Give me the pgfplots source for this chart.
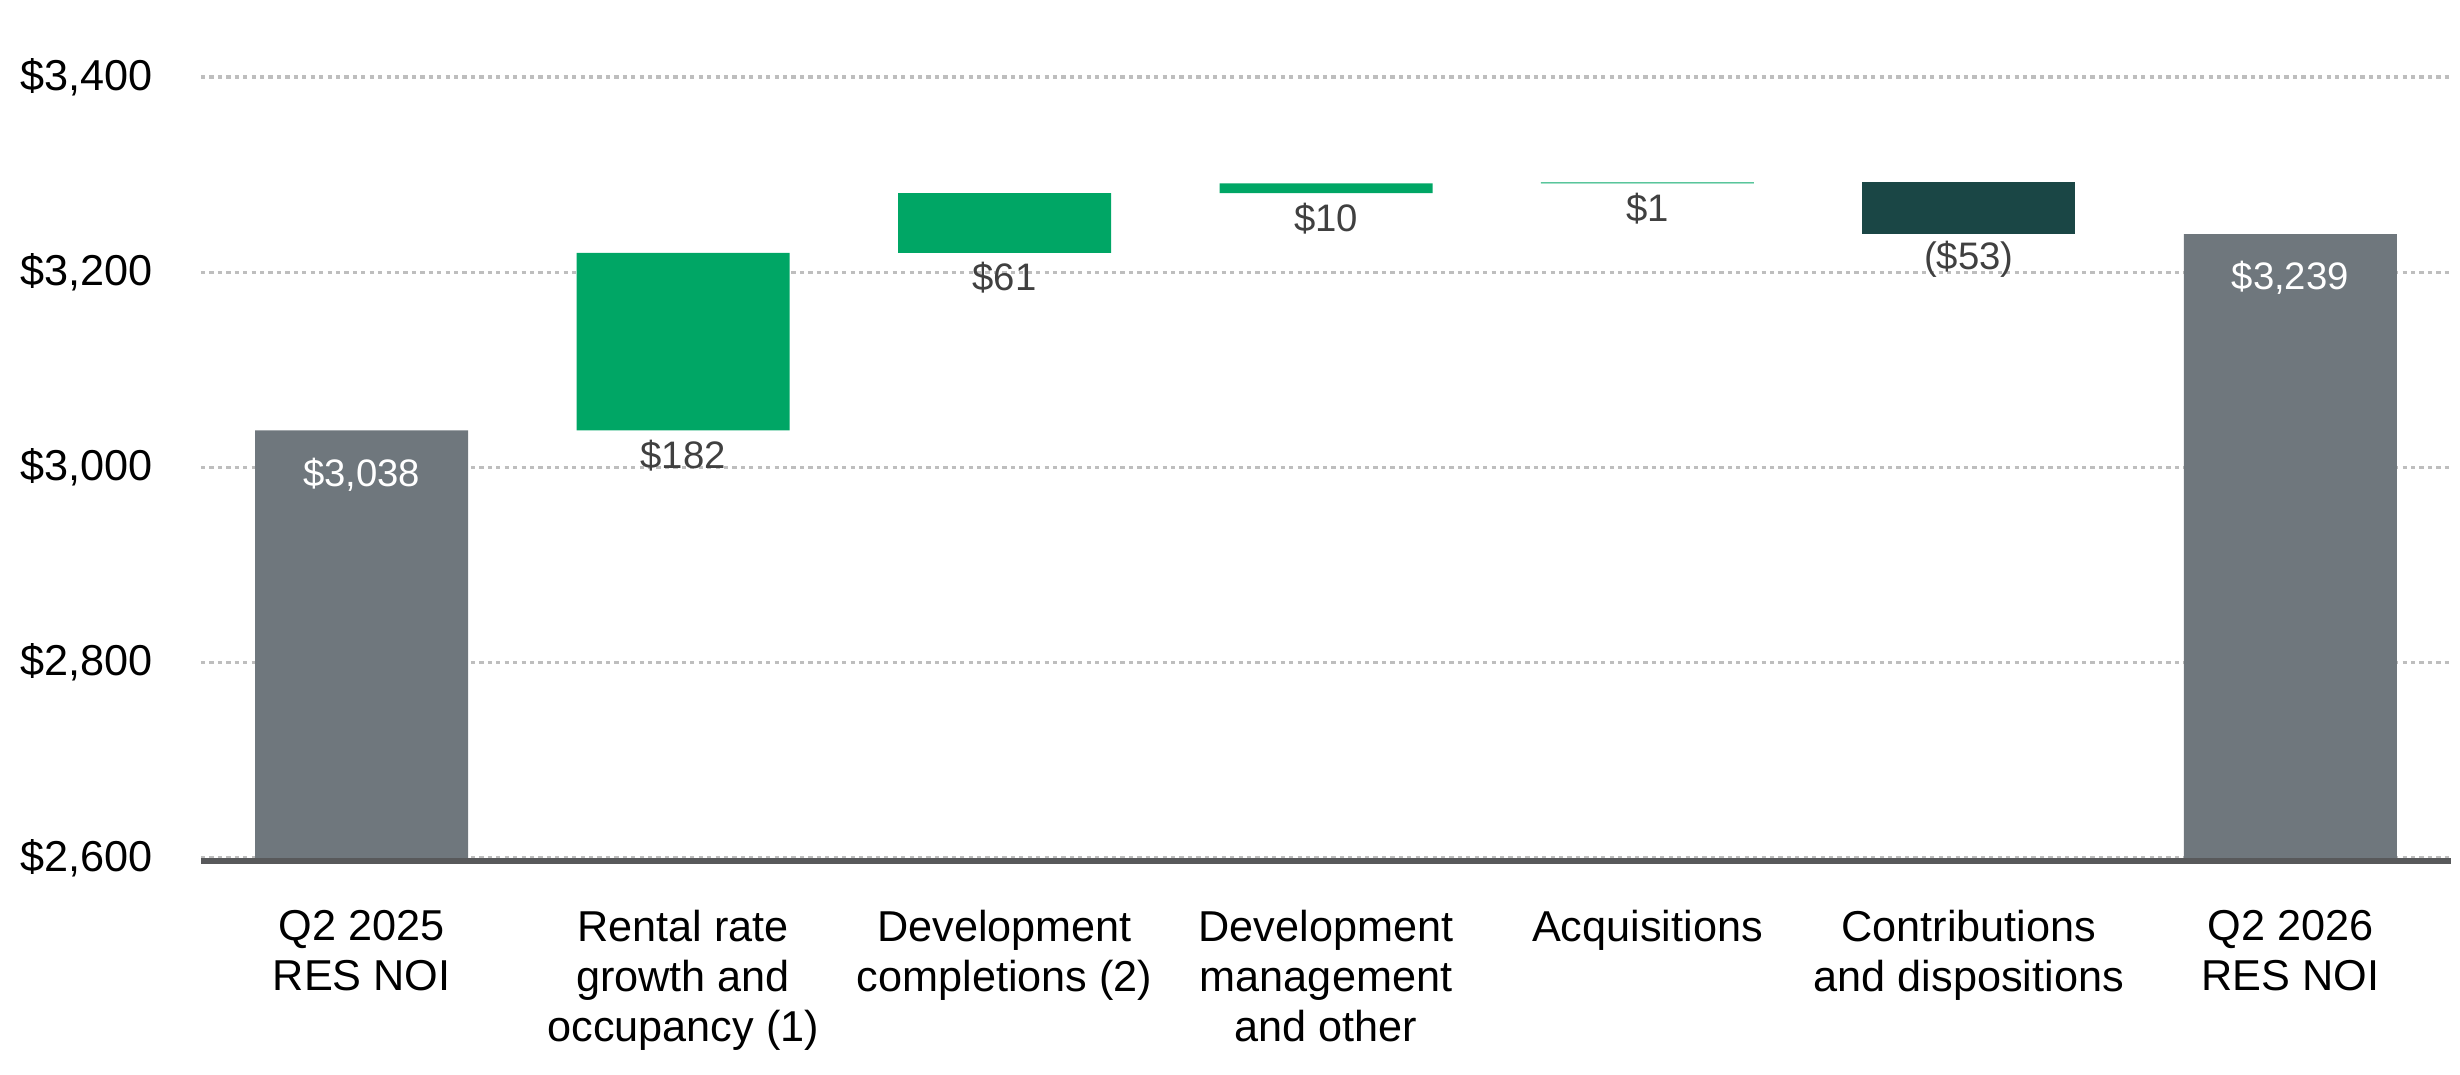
\documentclass[border=0pt]{standalone}
\usepackage{fontspec}
\setmainfont{Liberation Sans}
\usepackage{pgfplots}
\pgfplotsset{compat=1.18}
\definecolor{barGray}{RGB}{111,119,125}
\definecolor{barGreen}{RGB}{0,166,101}
\definecolor{barDark}{RGB}{26,70,69}
\definecolor{axisGray}{RGB}{88,89,91}
\definecolor{gridGray}{RGB}{190,190,190}
\definecolor{lblGray}{RGB}{64,64,64}
\pgfplotsset{wf/.style={width=22.5cm, height=8.58cm, scale only axis,
  xmin=-0.5, xmax=6.5, ymin=2600, ymax=3479}}
\begin{document}
\begin{tikzpicture}
\path[use as bounding box] (-2.01cm,-2.17cm) rectangle (22.59cm,8.58cm);
\begin{axis}[wf, ybar stacked, bar width=2.13cm,
  axis x line*=bottom, axis y line*=left,
  x axis line style={axisGray, line width=1.9pt, yshift=-0.9pt},
  y axis line style={draw=none},
  major tick length=0pt,
  ymajorgrids, grid style={gridGray, line width=0.9pt, dash pattern=on 1.2pt off 1.2pt},
  ytick={2600,2800,3000,3200,3400},
  yticklabels={{\$2,600},{\$2,800},{\$3,000},{\$3,200},{\$3,400}},
  xtick={0,1,2,3,4,5,6},
  xticklabels={{Q2 2025\\RES NOI},{Rental rate\\growth and\\occupancy (1)},{Development\\completions (2)},{Development\\management\\and other},{Acquisitions},{Contributions\\and dispositions},{Q2 2026\\RES NOI}},
  tick label style={font=\fontsize{12.3}{14.2}\selectfont, text=black},
  xticklabel style={align=center, anchor=north},
  xticklabel shift=0.4cm,
  yticklabel shift=0.36cm,
  ]
\addplot[fill=none, draw=none] coordinates {(0,0)(1,3038)(2,3220)(3,3281)(4,3291)(5,3239)(6,0)};
\addplot[fill=barGray, draw=none] coordinates {(0,3038)(1,0)(2,0)(3,0)(4,0)(5,0)(6,3239)};
\addplot[fill=barGreen, draw=none] coordinates {(0,0)(1,182)(2,61)(3,10)(4,1)(5,0)(6,0)};
\addplot[fill=barDark, draw=none] coordinates {(0,0)(1,0)(2,0)(3,0)(4,0)(5,53)(6,0)};
\end{axis}
\begin{axis}[wf, hide axis, clip=false]
\addplot[draw=none, mark=none, nodes near coords, point meta=explicit symbolic,
  nodes near coords style={anchor=center, yshift=-0.25cm, font=\fontsize{10.9}{13}\selectfont, text=lblGray}]
  coordinates {(1,3038)[{\$182}] (2,3220)[{\$61}] (3,3281)[{\$10}] (4,3291)[{\$1}] (5,3239)[{(\$53)}]};
\addplot[draw=none, mark=none, nodes near coords, point meta=explicit symbolic,
  nodes near coords style={anchor=center, yshift=-0.44cm, font=\fontsize{10.9}{13}\selectfont, text=white}]
  coordinates {(0,3038)[{\$3,038}] (6,3239)[{\$3,239}]};
\end{axis}
\end{tikzpicture}
\end{document}
